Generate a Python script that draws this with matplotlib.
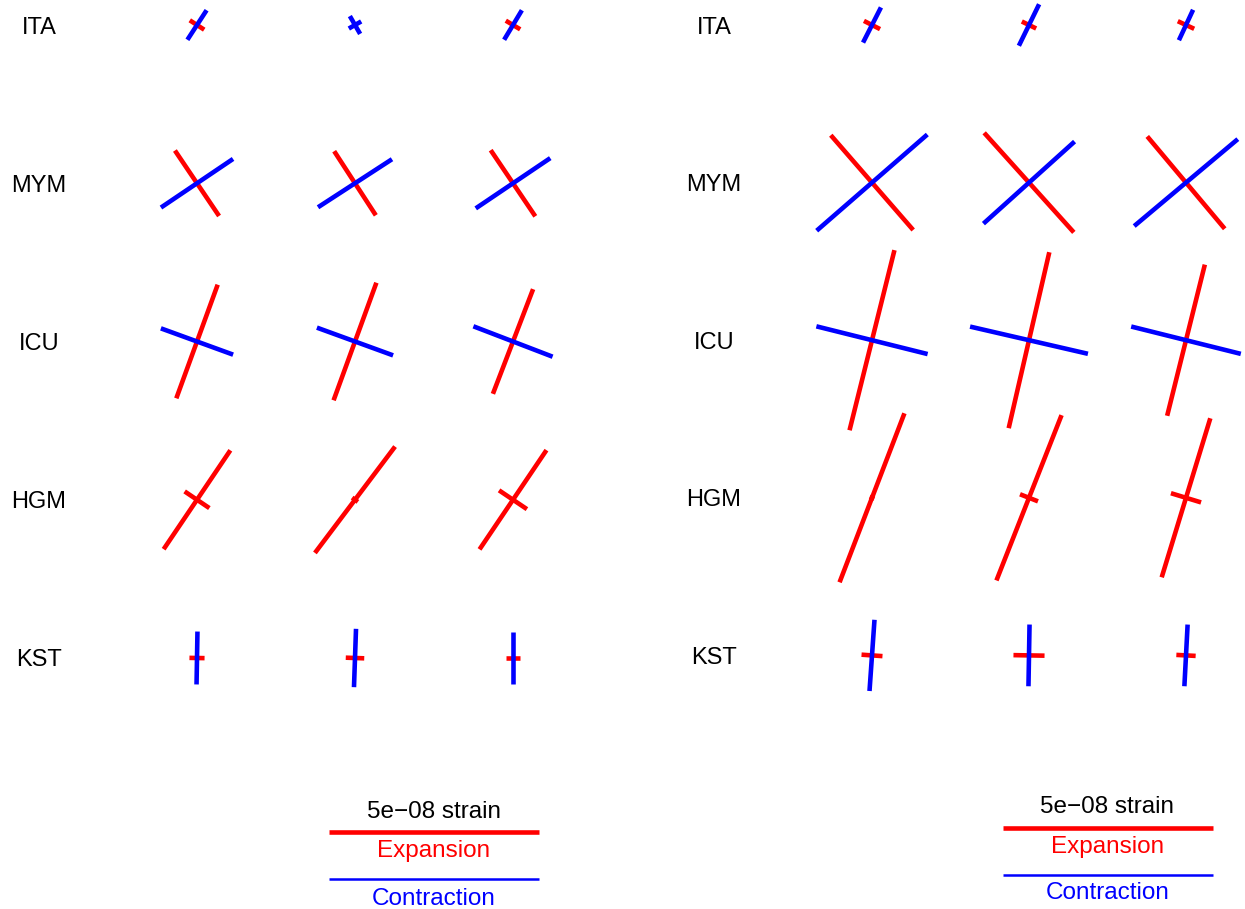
import numpy as np
import matplotlib.pyplot as plt

plt.rcParams['font.family'] = ['Liberation Sans', 'DejaVu Sans']

# principal strain axes, units of 1e-9 strain
# az: azimuth of axis A (deg clockwise from north), axis B is perpendicular
stations = ['ITA', 'MYM', 'ICU', 'HGM', 'KST']

az_left = [[33, 150, 31],
           [146, 147, 146],
           [20, 20, 21],
           [34, 37, 34],
           [1, 2, 0]]
ea_left = [[-8.4, -4.9, -8.2],
           [18.8, 18.2, 19.0],
           [28.8, 29.8, 26.7],
           [28.4, 31.7, 28.5],
           [-12.6, -13.9, -12.4]]
eb_left = [[4.1, -3.4, 4.0],
           [-20.7, -21.0, -21.4],
           [-18.3, -19.3, -20.2],
           [7.1, 1.7, 8.0],
           [3.6, 4.4, 3.3]]

az_right = [[27, 26, 25],
            [139, 138, 140],
            [14, 13, 14],
            [21, 21.5, 17],
            [4, 1, 3]]
ea_right = [[-9.4, -11.0, -8.0],
            [29.9, 31.9, 28.7],
            [44.2, 43.0, 37.1],
            [43.1, 42.3, 39.6],
            [-17.0, -14.7, -14.7]]
eb_right = [[4.3, 3.8, 4.3],
            [-34.9, -29.2, -32.2],
            [-27.3, -28.8, -26.9],
            [1.2, 4.6, 7.5],
            [5.0, 7.4, 4.6]]

ref_strain = 50.0          # 5e-08
ref_label = '5e\u221208 strain'
px_per_unit = 210 / ref_strain

RED = '#ff0000'
BLUE = '#0000ff'

panels = [
    dict(az=az_left, ea=ea_left, eb=eb_left, label_x=39, col_x0=197, col_step=158,
         row_y0=25, row_step=158.25, bar_x=434, bar_text=818, bar_red=832,
         exp_text=857, bar_blue=879, con_text=905),
    dict(az=az_right, ea=ea_right, eb=eb_right, label_x=714, col_x0=872, col_step=157,
         row_y0=25, row_step=157.6, bar_x=1107.5, bar_text=813, bar_red=828.3,
         exp_text=852.7, bar_blue=874.5, con_text=899),
]

fig = plt.figure(figsize=(12.45, 9.09), dpi=100)
ax = fig.add_axes([0, 0, 1, 1])
ax.set_xlim(0, 1245)
ax.set_ylim(909, 0)
ax.axis('off')


def draw_axis(x, y, az, strain):
    half = abs(strain) * px_per_unit / 2
    a = np.deg2rad(az)
    dx, dy = half * np.sin(a), -half * np.cos(a)
    color = RED if strain > 0 else BLUE
    ax.plot([x - dx, x + dx], [y - dy, y + dy], color=color, lw=3.3,
            solid_capstyle='butt', zorder=3 if strain < 0 else 2)


for p in panels:
    for i, name in enumerate(stations):
        y = p['row_y0'] + i * p['row_step']
        # baseline set so the capitals sit centred on the row
        ax.text(p['label_x'], y + 8.5, name, fontsize=17, ha='center', va='baseline')
        for j in range(3):
            x = p['col_x0'] + j * p['col_step']
            draw_axis(x, y, p['az'][i][j], p['ea'][i][j])
            draw_axis(x, y, p['az'][i][j] + 90, p['eb'][i][j])

    # reference bar
    half = ref_strain * px_per_unit / 2
    bx = p['bar_x']
    ax.text(bx, p['bar_text'], ref_label, fontsize=17.5, ha='center', va='baseline')
    ax.plot([bx - half, bx + half], [p['bar_red']] * 2, color=RED, lw=3.3,
            solid_capstyle='butt')
    ax.text(bx, p['exp_text'], 'Expansion', color=RED, fontsize=17.5,
            ha='center', va='baseline')
    ax.plot([bx - half, bx + half], [p['bar_blue']] * 2, color=BLUE, lw=1.8,
            solid_capstyle='butt')
    ax.text(bx, p['con_text'], 'Contraction', color=BLUE, fontsize=17.5,
            ha='center', va='baseline')

fig.savefig('out.png', dpi=100, facecolor='white')
